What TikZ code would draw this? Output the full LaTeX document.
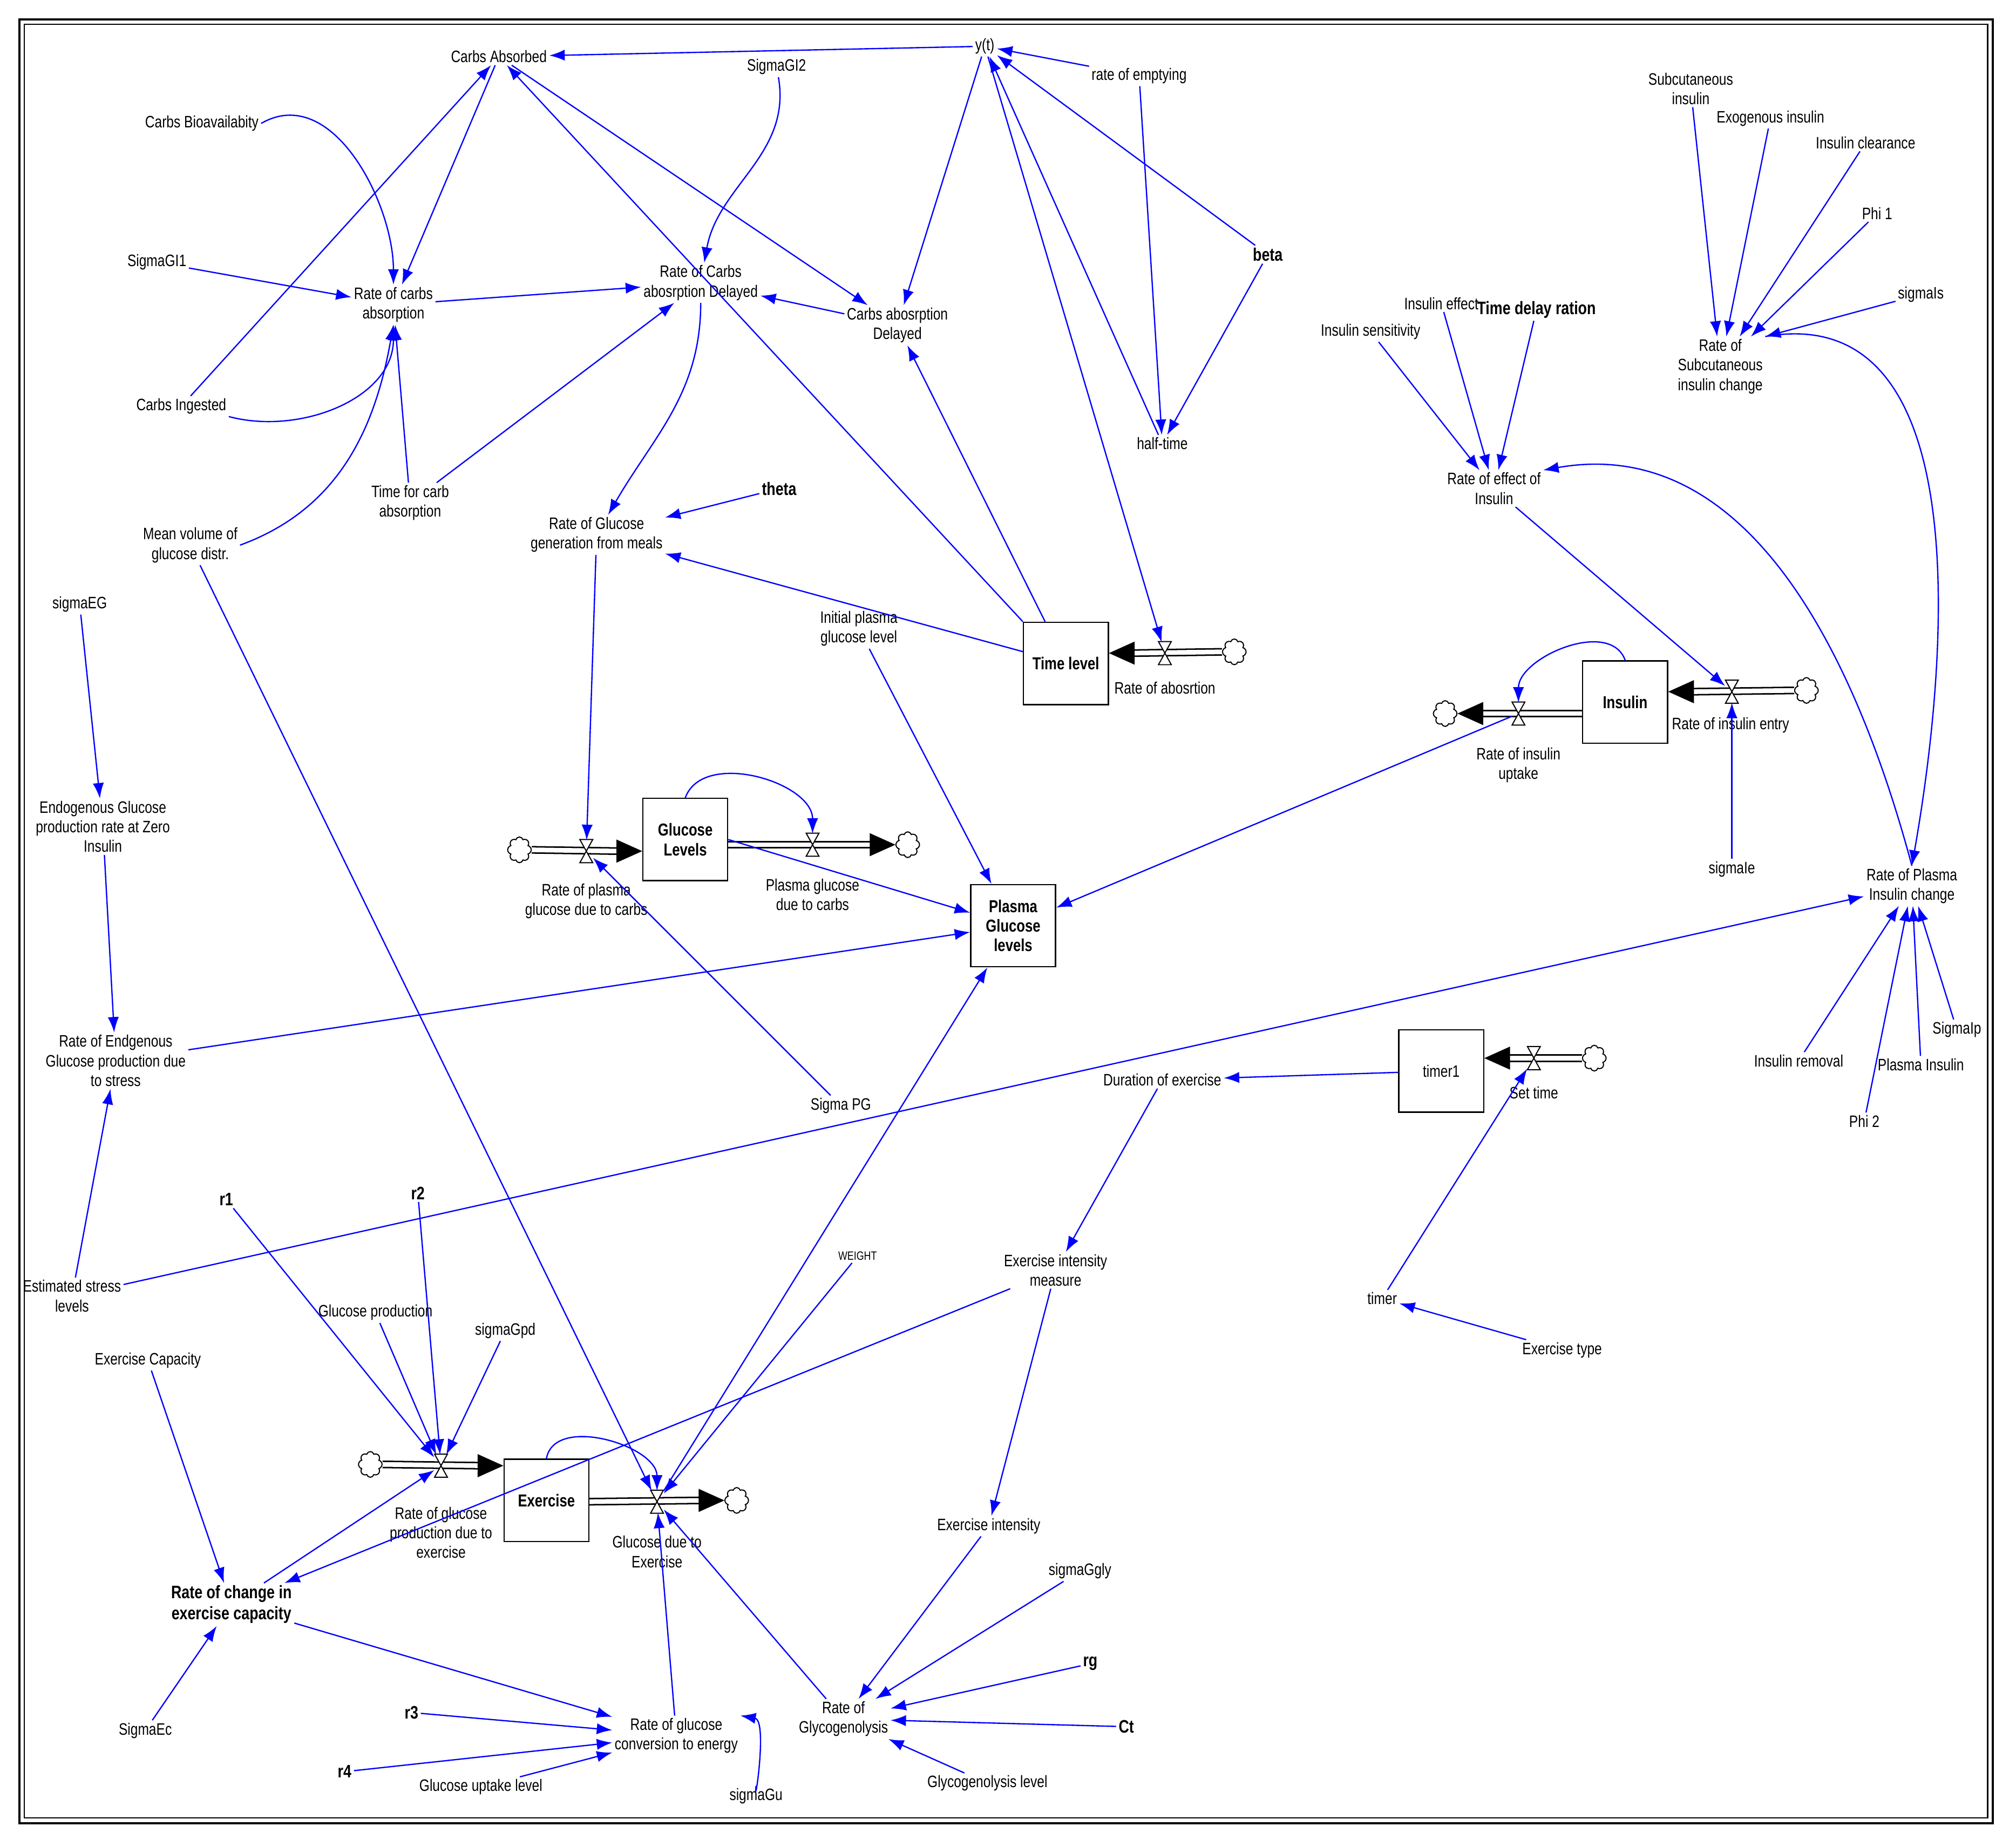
\documentclass[tikz,border=0pt]{standalone}
\usepackage{fontspec}
\setmainfont{Liberation Sans}[FakeStretch=0.8]
\usetikzlibrary{arrows.meta,shapes.symbols,calc}
\begin{document}
\begin{tikzpicture}[x=0.3mm,y=-0.3mm,
 every node/.style={font=\fontsize{11}{13}\selectfont, align=center, inner sep=1.5pt},
 ar/.style={draw={rgb,255:red,0;green,0;blue,255}, -{Latex[length=3.6mm,width=2.6mm]}, line width=0.3mm},
 box/.style={draw, line width=0.3mm, minimum width=19.8mm, minimum height=19.2mm, inner sep=0pt, font=\fontsize{11.5}{13}\selectfont\bfseries},
 valve/.style={minimum width=3mm, minimum height=5mm, inner sep=0pt},
 cl/.style={cloud, cloud puffs=8, draw, line width=0.25mm, minimum width=5.5mm, minimum height=6mm, aspect=0.9, inner sep=0pt},
 pipe/.style={draw=black, double=white, double distance=1.1mm, line width=0.35mm},
 bf/.style={font=\fontsize{12}{14}\selectfont\bfseries}]
\useasboundingbox (0,0) rectangle (1568,1431);
\draw[line width=0.5mm] (15,15) rectangle (1550,1418);
\draw[line width=0.3mm] (19,19) rectangle (1546,1414);
% text nodes
\node (carbsAbs) at (388,44) {Carbs Absorbed};
\node (yt) at (766,36) {y(t)};
\node (rateEmpty) at (886,59) {rate of emptying};
\node (sigmaGI2) at (604,52) {SigmaGI2};
\node (carbsBio) at (157,96) {Carbs Bioavailabity};
\node (sigmaGI1) at (122,204) {SigmaGI1};
\node (rateCarbs) at (306,237) {Rate of carbs\\absorption};
\node (rateCarbsDel) at (545,220) {Rate of Carbs\\abosrption Delayed};
\node (carbsAbsDel) at (698,253) {Carbs abosrption\\Delayed};
\node[bf] (beta) at (986,198) {beta};
\node (halftime) at (904,345) {half-time};
\node (carbsIng) at (141,316) {Carbs Ingested};
\node (timeCarb) at (319,391) {Time for carb\\absorption};
\node (meanVol) at (148,424) {Mean volume of\\glucose distr.};
\node[bf] (theta) at (606,380) {theta};
\node (rateGluGen) at (464,416) {Rate of Glucose\\generation from meals};
\node (initPlasma) at (668,489) {Initial plasma\\glucose level};
\node (sigmaEG) at (62,470) {sigmaEG};
\node (subQ) at (1315,69) {Subcutaneous\\insulin};
\node (exoIns) at (1377,92) {Exogenous insulin};
\node (insClear) at (1451,111) {Insulin clearance};
\node (phi1) at (1460,166) {Phi 1};
\node (sigmaIs) at (1494,229) {sigmaIs};
\node (rateSubQ) at (1338,285) {Rate of\\Subcutaneous\\insulin change};
\node (insEffect) at (1121,236) {Insulin effect};
\node[bf] (timeDelay) at (1195,241) {Time delay ration};
\node (insSens) at (1066,258) {Insulin sensitivity};
\node (rateEffIns) at (1162,380) {Rate of effect of\\Insulin};
\node (sigmaIe) at (1347,676) {sigmaIe};
\node (ratePlasmaIns) at (1487,689) {Rate of Plasma\\Insulin change};
\node (sigmaIp) at (1522,801) {SigmaIp};
\node (insRemoval) at (1399,825) {Insulin removal};
\node (plasmaIns) at (1494,828) {Plasma Insulin};
\node (phi2) at (1450,872) {Phi 2};
\node (endoZero) at (80,643) {Endogenous Glucose\\production rate at Zero\\Insulin};
\node (rateEndo) at (90,825) {Rate of Endgenous\\Glucose production due\\to stress};
\node (sigmaPG) at (654,860) {Sigma PG};
\node (durEx) at (904,840) {Duration of exercise};
\node[bf] (r1) at (176,933) {r1};
\node[bf] (r2) at (325,928) {r2};
\node (weight) at (667,977) {\fontsize{8}{10}\selectfont WEIGHT};
\node (exIntMeas) at (821,988) {Exercise intensity\\measure};
\node (estStress) at (56,1008) {Estimated stress\\levels};
\node (timer) at (1075,1010) {timer};
\node (gluProd) at (292,1021) {Glucose production};
\node (sigmaGpd) at (393,1035) {sigmaGpd};
\node (exType) at (1215,1050) {Exercise type};
\node (exCap) at (115,1058) {Exercise Capacity};
\node (exInt) at (769,1187) {Exercise intensity};
\node (sigmaGgly) at (840,1222) {sigmaGgly};
\node[bf] (rateChangeEx) at (180,1248) {Rate of change in\\exercise capacity};
\node[bf] (rg) at (848,1294) {rg};
\node[bf] (Ct) at (876,1343) {Ct};
\node[bf] (r3) at (320,1332) {r3};
\node[bf] (r4) at (268,1378) {r4};
\node (rateGluConv) at (526,1350) {Rate of glucose\\conversion to energy};
\node (rateGlyco) at (656,1337) {Rate of\\Glycogenolysis};
\node (sigmaEc) at (113,1346) {SigmaEc};
\node (gluUptake) at (374,1390) {Glucose uptake level};
\node (sigmaGu) at (588,1397) {sigmaGu};
\node (glycoLevel) at (768,1387) {Glycogenolysis level};
% boxes
\node[box] (timeLevel) at (829,516) {Time level};
\node[box] (insulin) at (1264,546) {Insulin};
\node[box] (gluLev) at (533,653) {Glucose\\Levels};
\node[box] (plasmaGlu) at (788,720) {Plasma\\Glucose\\levels};
\node[box, font=\fontsize{11}{13}\selectfont] (timer1) at (1121,833) {timer1};
\node[box] (exercise) at (425,1167) {Exercise};
% clouds
\node[cl] (c1) at (960,507) {};
\node[cl] (c2) at (1405,537) {};
\node[cl] (c3) at (1124,555) {};
\node[cl] (c4) at (404,661) {};
\node[cl] (c5) at (706,657) {};
\node[cl] (c6) at (1240,823) {};
\node[cl] (c7) at (288,1139) {};
\node[cl] (c8) at (573,1167) {};
% valves
\node[valve] (vAbs) at (906,508) {};
\node[valve] (vEntry) at (1347,538) {};
\node[valve] (vUptake) at (1181,555) {};
\node[valve] (vPC) at (456,662) {};
\node[valve] (vPGC) at (632,657) {};
\node[valve] (vSet) at (1193,823) {};
\node[valve] (vProd) at (343,1140) {};
\node[valve] (vGE) at (511,1168) {};
% pipes
\draw[pipe] (c1.west) -- ($(timeLevel.east|-vAbs)+(18,0)$);
\fill (timeLevel.east|-vAbs) -- ++(20,-9) -- ++(0,18) -- cycle;
\draw[pipe] (c2.west) -- ($(insulin.east|-vEntry)+(18,0)$);
\fill (insulin.east|-vEntry) -- ++(20,-9) -- ++(0,18) -- cycle;
\draw[pipe] (insulin.west|-vUptake) -- ($(c3.east)+(18,0)$);
\fill (c3.east) -- ++(20,-9) -- ++(0,18) -- cycle;
\draw[pipe] (c4.east) -- ($(gluLev.west|-vPC)+(-18,0)$);
\fill (gluLev.west|-vPC) -- ++(-20,-9) -- ++(0,18) -- cycle;
\draw[pipe] (gluLev.east|-vPGC) -- ($(c5.west)+(-18,0)$);
\fill (c5.west) -- ++(-20,-9) -- ++(0,18) -- cycle;
\draw[pipe] (c6.west) -- ($(timer1.east|-vSet)+(18,0)$);
\fill (timer1.east|-vSet) -- ++(20,-9) -- ++(0,18) -- cycle;
\draw[pipe] (c7.east) -- ($(exercise.west|-vProd)+(-18,0)$);
\fill (exercise.west|-vProd) -- ++(-20,-9) -- ++(0,18) -- cycle;
\draw[pipe] (exercise.east|-vGE) -- ($(c8.west)+(-18,0)$);
\fill (c8.west) -- ++(-20,-9) -- ++(0,18) -- cycle;
\foreach \v in {vAbs,vEntry,vUptake,vPC,vPGC,vSet,vProd,vGE}{
 \draw[fill=white, line width=0.25mm] (\v.center) ++(-5,-9) -- ++(10,0) -- ++(-10,18) -- ++(10,0) -- cycle;}
% valve labels
\node (lAbs) at (906,535) {Rate of abosrtion};
\node (lEntry) at (1346,564) {Rate of insulin entry};
\node (lUptake) at (1181,595) {Rate of insulin\\uptake};
\node (lPC) at (456,701) {Rate of plasma\\glucose due to carbs};
\node (lPGC) at (632,696) {Plasma glucose\\due to carbs};
\node (lSet) at (1193,850) {Set time};
\node (lProd) at (343,1192) {Rate of glucose\\production due to\\exercise};
\node (lGE) at (511,1207) {Glucose due to\\Exercise};
% connectors
\draw[ar] (yt) -- (carbsAbs);
\draw[ar] (rateEmpty) -- (yt);
\draw[ar] (beta) -- (yt);
\draw[ar] (beta) -- (halftime);
\draw[ar] (rateEmpty) -- (halftime);
\draw[ar] (halftime) -- (yt);
\draw[ar] (yt) -- (vAbs);
\draw[ar] (yt) -- (carbsAbsDel);
\draw[ar] (carbsAbs) -- (carbsAbsDel);
\draw[ar] (carbsAbsDel) -- (rateCarbsDel);
\draw[ar] (sigmaGI2) to[out=-80,in=80] (rateCarbsDel);
\draw[ar] (timeLevel.north west) -- (carbsAbs);
\draw[ar] (timeLevel) -- (carbsAbsDel);
\draw[ar] (timeLevel) -- (rateGluGen);
\draw[ar] (carbsAbs) -- (rateCarbs);
\draw[ar] (carbsIng) -- (carbsAbs);
\draw[ar] (carbsIng.south east) to[out=-15,in=-90] (rateCarbs.south);
\draw[ar] (carbsBio.east) to[out=30,in=90] (rateCarbs.north);
\draw[ar] (sigmaGI1) -- (rateCarbs);
\draw[ar] (timeCarb) -- (rateCarbs);
\draw[ar] (meanVol.east) to[out=20,in=-100] (rateCarbs.south);
\draw[ar] (rateCarbs) -- (rateCarbsDel);
\draw[ar] (timeCarb) -- (rateCarbsDel);
\draw[ar] (rateCarbsDel) to[out=-90,in=60] (rateGluGen);
\draw[ar] (theta) -- (rateGluGen);
\draw[ar] (rateGluGen) -- (vPC);
\draw[ar] (meanVol) -- (vGE);
\draw[ar] (initPlasma) -- (plasmaGlu);
\draw[ar] (gluLev.north) to[out=70,in=90] (vPGC);
\draw[ar] (gluLev.east) -- (plasmaGlu);
\draw[ar] (sigmaPG) -- (vPC);
\draw[ar] (vUptake) -- (plasmaGlu);
\draw[ar] (rateEndo) -- (plasmaGlu);
\draw[ar] (vGE) -- (plasmaGlu);
\draw[ar] (weight) -- (vGE);
\draw[ar] (estStress) -- (ratePlasmaIns);
\draw[ar] (estStress) -- (rateEndo);
\draw[ar] (endoZero) -- (rateEndo);
\draw[ar] (sigmaEG) -- (endoZero);
\draw[ar] (rateEffIns) -- (vEntry);
\draw[ar] (insSens) -- (rateEffIns);
\draw[ar] (insEffect) -- (rateEffIns);
\draw[ar] (timeDelay) -- (rateEffIns);
\draw[ar] (ratePlasmaIns.north) to[out=105,in=10] (rateEffIns.north east);
\draw[ar] (rateSubQ.north east) to[out=10,in=80] (ratePlasmaIns.north);
\draw[ar] (subQ) -- (rateSubQ);
\draw[ar] (exoIns) -- (rateSubQ);
\draw[ar] (insClear) -- (rateSubQ);
\draw[ar] (phi1) -- (rateSubQ);
\draw[ar] (sigmaIs) -- (rateSubQ.north east);
\draw[ar] (insulin.north) to[out=110,in=90] (vUptake);
\draw[ar] (sigmaIe) -- (vEntry);
\draw[ar] (insRemoval) -- (ratePlasmaIns);
\draw[ar] (phi2) -- (ratePlasmaIns);
\draw[ar] (plasmaIns) -- (ratePlasmaIns);
\draw[ar] (sigmaIp) -- (ratePlasmaIns);
\draw[ar] (timer1) -- (durEx);
\draw[ar] (durEx) -- (exIntMeas);
\draw[ar] (exIntMeas) -- (exInt);
\draw[ar] (exIntMeas) -- (rateChangeEx);
\draw[ar] (timer) -- (vSet);
\draw[ar] (exType) -- (timer);
\draw[ar] (exInt) -- (rateGlyco);
\draw[ar] (sigmaGgly) -- (rateGlyco);
\draw[ar] (rg) -- (rateGlyco);
\draw[ar] (Ct) -- (rateGlyco);
\draw[ar] (glycoLevel) -- (rateGlyco);
\draw[ar] (rateGlyco) -- (vGE);
\draw[ar] (rateGluConv) -- (vGE);
\draw[ar] (r3) -- (rateGluConv);
\draw[ar] (r4) -- (rateGluConv);
\draw[ar] (gluUptake) -- (rateGluConv);
\draw[ar] (rateChangeEx) -- (rateGluConv);
\draw[ar] (sigmaGu.north) to[out=-95,in=-10] (rateGluConv.north east);
\draw[ar] (exercise.north) to[out=80,in=90] (vGE);
\draw[ar] (r1) -- (vProd);
\draw[ar] (r2) -- (vProd);
\draw[ar] (gluProd) -- (vProd);
\draw[ar] (sigmaGpd) -- (vProd);
\draw[ar] (exCap) -- (rateChangeEx);
\draw[ar] (sigmaEc) -- (rateChangeEx);
\draw[ar] (rateChangeEx) -- (vProd);
\end{tikzpicture}
\end{document}
